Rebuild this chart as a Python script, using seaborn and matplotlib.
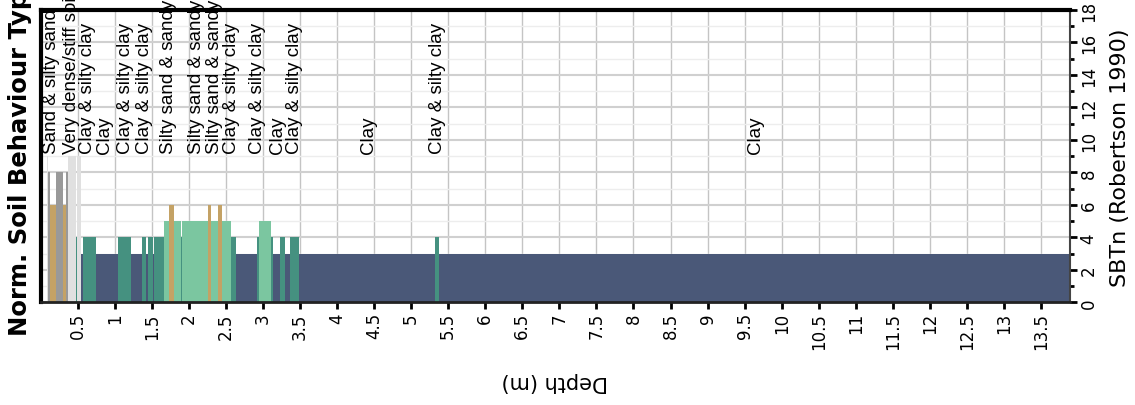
import numpy as np
import pandas as pd
import matplotlib
matplotlib.use('Agg')
import matplotlib.pyplot as plt
import seaborn as sns

# Layer boundaries (depth, m) and SBTn zone of each layer
layer_top = [0.082, 0.104, 0.127, 0.208, 0.306, 0.343, 0.374, 0.478, 0.495, 0.541,
             0.568, 0.748, 1.040, 1.220, 1.364, 1.422, 1.445, 1.521, 1.534, 1.665,
             1.737, 1.800, 1.891, 1.912, 2.263, 2.296, 2.390, 2.452, 2.569, 2.630,
             2.916, 2.947, 3.105, 3.140, 3.231, 3.298, 3.365, 3.491, 5.323, 5.376]
final_depth = 13.89
layer_zone = [9, 8, 6, 8, 6, 8, 9, 4, 9, 3,
              4, 3, 4, 3, 4, 3, 4, 3, 4, 5,
              6, 5, 4, 5, 6, 5, 6, 5, 4, 3,
              4, 5, 4, 3, 4, 3, 4, 3, 4, 3]

zone_colors = {'3': '#4a5878', '4': '#459180', '5': '#7bc6a0',
               '6': '#c4a265', '8': '#999999', '9': '#e0e0e0'}

# Soil type labels written above the profile
label_depth = [0.15, 0.41, 0.63, 0.86, 1.14, 1.40, 1.72, 2.10, 2.34, 2.58,
               2.93, 3.19, 3.42, 4.42, 5.35, 9.65]
label_text = ['Sand & silty sand', 'Very dense/stiff soil', 'Clay & silty clay', 'Clay',
              'Clay & silty clay', 'Clay & silty clay', 'Silty sand & sandy silt',
              'Silty sand & sandy silt', 'Silty sand & sandy silt', 'Clay & silty clay',
              'Clay & silty clay', 'Clay', 'Clay & silty clay', 'Clay',
              'Clay & silty clay', 'Clay']

depth_ticks = np.arange(0.5, 13.6, 0.5)


def build_frame():
    edges = layer_top + [final_depth]
    mids = [(a + b) / 2 for a, b in zip(edges[:-1], edges[1:])]
    df = pd.DataFrame({
        'mid': mids,
        'sbt': layer_zone,
        'zone': [str(z) for z in layer_zone],
    })
    return df, edges


def main():
    sns.set_theme(style='ticks')
    plt.rcParams['font.family'] = ['DejaVu Sans']
    plt.rcParams['text.color'] = 'black'
    plt.rcParams['xtick.color'] = 'black'
    plt.rcParams['ytick.color'] = 'black'
    plt.rcParams['xtick.labelcolor'] = 'black'
    plt.rcParams['ytick.labelcolor'] = 'black'

    df, edges = build_frame()

    fig = plt.figure(figsize=(11.35, 4.06), dpi=100)
    ax = fig.add_axes([0.0358, 0.2525, 0.9069, 0.7205])

    sns.histplot(data=df, x='mid', weights='sbt', bins=edges, hue='zone',
                 palette=zone_colors, multiple='layer', element='bars',
                 fill=True, alpha=1, linewidth=0, legend=False, ax=ax)

    ax.set_xlim(0, final_depth)
    ax.set_ylim(0, 18)
    ax.set_xlabel('')
    ax.set_ylabel('')

    ax.set_xticks(depth_ticks)
    ax.set_xticklabels(['%g' % t for t in depth_ticks])
    ax.yaxis.tick_right()
    ax.set_yticks(np.arange(0, 19, 2))
    ax.set_yticks(np.arange(1, 18, 2), minor=True)

    ax.tick_params(axis='x', labelrotation=90, labelsize=12, length=5, width=2,
                   pad=2, color='black', labelcolor='black')
    ax.tick_params(axis='y', which='major', labelrotation=90, labelsize=12,
                   length=5, width=2, pad=2, right=True, left=False,
                   color='black', labelcolor='black')
    ax.tick_params(axis='y', which='minor', length=3, width=2, right=True,
                   left=False, color='black')
    for lab in ax.get_yticklabels():
        lab.set_va('center')

    ax.set_axisbelow(True)
    ax.grid(True, which='major', axis='x', color='#c4c4c4', lw=1)
    ax.grid(True, which='major', axis='y', color='#d0d0d0', lw=1.5)
    ax.grid(True, which='minor', axis='y', color='#ededed', lw=1)

    ax.spines['left'].set_linewidth(3)
    ax.spines['left'].set_color('black')
    ax.spines['top'].set_linewidth(3)
    ax.spines['top'].set_color('black')
    ax.spines['bottom'].set_linewidth(2)
    ax.spines['bottom'].set_color('#222222')
    ax.spines['right'].set_linewidth(1.5)
    ax.spines['right'].set_color('#444444')

    for d, t in zip(label_depth, label_text):
        ax.text(d, 9.2, t, rotation=90, ha='center', va='bottom', fontsize=13.5,
                color='black', family=['Liberation Sans', 'DejaVu Sans'],
                clip_on=False)

    fig.text(0.018, 1 - 336 / 406, 'Norm. Soil Behaviour Type', rotation=90,
             ha='center', va='bottom', fontsize=17.5, fontweight='bold',
             color='black')
    fig.text(555 / 1135, 1 - 382 / 406, 'Depth (m)', rotation=180,
             ha='center', va='center', fontsize=15, color='black')
    fig.text(1120 / 1135, 1 - 158 / 406, 'SBTn (Robertson 1990)', rotation=90,
             ha='center', va='center', fontsize=16, color='black')

    fig.savefig('out.png', dpi=100)


if __name__ == '__main__':
    main()
